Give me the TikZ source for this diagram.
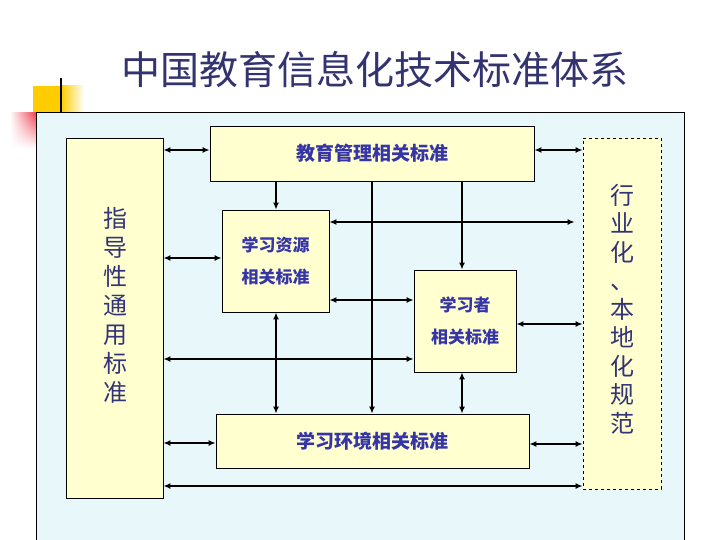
\documentclass[tikz,border=0pt]{standalone}
\usepackage{fontspec}
\newfontfamily\cjk{Noto Sans CJK SC}
\usetikzlibrary{arrows.meta,fadings}
\definecolor{panelcyan}{HTML}{E8F7FA}
\definecolor{boxyellow}{HTML}{FFFFCF}
\definecolor{labelblue}{HTML}{3535A8}
\definecolor{darkblue}{HTML}{333378}
\definecolor{titleblue}{HTML}{333370}
\definecolor{cornergold}{HTML}{FFCC00}
\definecolor{cornerred}{HTML}{F04050}
\tikzfading[name=fadedown, top color=transparent!0, bottom color=transparent!100]

\begin{document}
\begin{tikzpicture}[x=1pt,y=-1pt]
	\tikzset{
		stdbox/.style={draw=black, line width=0.8pt, fill=boxyellow, inner sep=0pt,
			font=\cjk\bfseries\fontsize{17}{32}\selectfont, text=labelblue, align=center},
		widebox/.style={stdbox, font=\cjk\bfseries\fontsize{19}{19}\selectfont},
		vtext/.style={font=\cjk\fontsize{24}{29}\selectfont, text=darkblue, align=center, inner sep=0pt},
		both/.style={line width=2pt, {Latex[length=7pt,width=6pt]}-{Latex[length=7pt,width=6pt]}},
		one/.style={line width=2pt, -{Latex[length=7pt,width=6pt]}}
	}
	\clip (0,0) rectangle (720,540);
	\fill [white] (0,0) rectangle (720,540);
	% corner marks
	\fill [cornergold] (33,86) rectangle (61,113);
	\shade [left color=cornergold, right color=white] (61,86) rectangle (84,113);
	\shade [left color=white, right color=cornerred, path fading=fadedown] (10,113) rectangle (36,148);
	\draw [black, line width=2.5pt] (61,78) -- (61,113);
	\filldraw [fill=panelcyan, draw=black, line width=1pt] (36,113) rectangle (684,560);
	\node [font=\cjk\fontsize{39}{39}\selectfont, text=titleblue] (title) at (375,70) {中国教育信息化技术标准体系};
	% boxes
	\node [stdbox, minimum width=97, minimum height=360] (guide) at (114.5,318) {};
	\node [vtext] (guidetext) at (115,305) {指\\导\\性\\通\\用\\标\\准};
	\node [widebox, minimum width=324, minimum height=55] (mgmt) at (372,153.5) {教育管理相关标准};
	\node [stdbox, minimum width=107, minimum height=102] (res) at (275.5,261) {学习资源\\相关标准};
	\node [stdbox, minimum width=102, minimum height=102] (lrn) at (465,321) {学习者\\相关标准};
	\node [widebox, minimum width=313, minimum height=54] (env) at (372.5,441) {学习环境相关标准};
	\node [stdbox, dashed, minimum width=78, minimum height=351] (local) at (622,313.5) {};
	\node [vtext, font=\cjk\fontsize{24}{28.5}\selectfont] (localtext) at (622,309) {行\\业\\化\\、\\本\\地\\化\\规\\范};
	% connectors
	\draw [both] (guide.east |- 0,150) -- (mgmt.west |- 0,150);
	\draw [both] (guide.east |- 0,258) -- (res.west |- 0,258);
	\draw [both] (guide.east |- 0,359) -- (lrn.west |- 0,359);
	\draw [both] (guide.east |- 0,443) -- (env.west |- 0,443);
	\draw [both] (guide.east |- 0,486) -- (local.west |- 0,486);
	\draw [both] (mgmt.east |- 0,150) -- (local.west |- 0,150);
	\draw [both, shorten >=8pt] (res.east |- 0,222) -- (local.west |- 0,222);
	\draw [both] (res.east |- 0,300) -- (lrn.west |- 0,300);
	\draw [both] (lrn.east |- 0,324) -- (local.west |- 0,324);
	\draw [both] (env.east |- 0,444) -- (local.west |- 0,444);
	\draw [one] (mgmt.south -| 276,0) -- (res.north -| 276,0);
	\draw [one] (mgmt.south -| 372,0) -- (env.north -| 372,0);
	\draw [one] (mgmt.south -| 462,0) -- (lrn.north -| 462,0);
	\draw [both] (res.south -| 276,0) -- (env.north -| 276,0);
	\draw [both] (lrn.south -| 462,0) -- (env.north -| 462,0);
\end{tikzpicture}
\end{document}
